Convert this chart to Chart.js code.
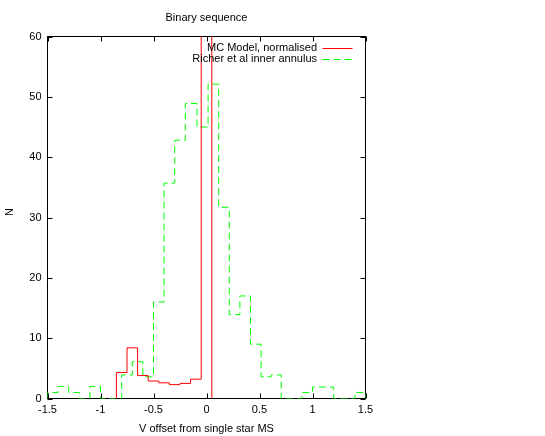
<!DOCTYPE html>
<html lang="en">
<head>
<meta charset="UTF-8">
<title>Binary sequence</title>
<script src="https://cdn.jsdelivr.net/npm/chart.js"></script>
<style>
  body { margin: 0; background: #fff; }
  canvas { display: block; }
</style>
</head>
<body>
<canvas id="histChart" width="545" height="436"></canvas>
<script>
// bin edges and counts
const modelEdges = [-0.85, -0.75, -0.65, -0.55, -0.45, -0.35, -0.25, -0.15, -0.05, 0.05];
const modelCounts = [4.3, 8.4, 3.8, 2.9, 2.6, 2.3, 2.5, 3.2, 200];

const richerEdges = [-1.5, -1.4, -1.3, -1.2, -1.1, -1.0, -0.8, -0.7, -0.6, -0.5, -0.4, -0.3, -0.2, -0.09,
  0.015, 0.115, 0.215, 0.315, 0.415, 0.515, 0.61, 0.705, 0.9, 1.0, 1.2, 1.4, 1.5];
const richerCounts = [1, 2, 1, 0, 2, 0, 3.9, 6.1, 3.6, 16, 35.7, 42.8, 48.9, 45,
  52.1, 31.7, 13.9, 17, 9, 3.6, 3.9, 0, 1, 1.9, 0, 1];

const seriesNames = ["MC Model, normalised", "Richer et al inner annulus"];
const xTicks = [-1.5, -1, -0.5, 0, 0.5, 1, 1.5];
const yTicks = [0, 10, 20, 30, 40, 50, 60];

const FONT = "11px 'Liberation Sans', Arial, sans-serif";

// turn edges + counts into points for a stepped line
function steps(edges, counts) {
  const pts = [{x: edges[0], y: 0}];
  counts.forEach((c, i) => pts.push({x: edges[i], y: c}));
  const last = edges[edges.length - 1];
  pts.push({x: last, y: counts[counts.length - 1]});
  pts.push({x: last, y: 0});
  return pts;
}

const framePlugin = {
  id: 'frame',
  beforeDatasetsDraw(chart) {
    const {ctx, chartArea: a, scales} = chart;
    ctx.save();
    ctx.strokeStyle = '#000';
    ctx.lineWidth = 1;
    ctx.strokeRect(a.left, a.top, a.right - a.left, a.bottom - a.top);
    ctx.beginPath();
    xTicks.forEach(v => {
      const px = Math.round(scales.x.getPixelForValue(v)) + 0.5;
      ctx.moveTo(px, a.bottom); ctx.lineTo(px, a.bottom - 5);
      ctx.moveTo(px, a.top); ctx.lineTo(px, a.top + 5);
    });
    yTicks.forEach(v => {
      const py = Math.round(scales.y.getPixelForValue(v)) + 0.5;
      ctx.moveTo(a.left, py); ctx.lineTo(a.left + 5, py);
      ctx.moveTo(a.right, py); ctx.lineTo(a.right - 5, py);
    });
    ctx.stroke();
    ctx.restore();
  },
  afterDraw(chart) {
    const {ctx, chartArea: a} = chart;
    ctx.save();
    ctx.font = FONT;
    ctx.fillStyle = '#000';
    ctx.textBaseline = 'middle';
    ctx.textAlign = 'center';
    const cx = (a.left + a.right) / 2;
    ctx.fillText('Binary sequence', cx, 18);
    ctx.fillText('V offset from single star MS', cx, 429);
    ctx.save();
    ctx.translate(10, 212);
    ctx.rotate(-Math.PI / 2);
    ctx.fillText('N', 0, 0);
    ctx.restore();

    // key, top right inside the plot
    const rows = [47.5, 58.5];
    chart.data.datasets.forEach((ds, i) => {
      const y = rows[i];
      ctx.textAlign = 'right';
      ctx.fillStyle = '#000';
      ctx.fillText(seriesNames[i], 317, y);
      ctx.beginPath();
      ctx.strokeStyle = ds.borderColor;
      ctx.lineWidth = 1;
      ctx.setLineDash(ds.borderDash || []);
      ctx.moveTo(322.5, Math.round(y) + 0.5);
      ctx.lineTo(352.5, Math.round(y) + 0.5);
      ctx.stroke();
    });
    ctx.restore();
  }
};

const tickFont = {family: "'Liberation Sans', Arial, sans-serif", size: 11};

new Chart(document.getElementById('histChart'), {
  type: 'line',
  data: {
    datasets: [
      {
        label: seriesNames[0],
        data: steps(modelEdges, modelCounts),
        borderColor: '#ff0000',
        borderWidth: 1,
        pointRadius: 0,
        stepped: 'before',
        fill: false
      },
      {
        label: seriesNames[1],
        data: steps(richerEdges, richerCounts),
        borderColor: '#00ff00',
        borderWidth: 1,
        borderDash: [7, 4],
        pointRadius: 0,
        stepped: 'before',
        fill: false
      }
    ]
  },
  options: {
    responsive: false,
    animation: false,
    layout: {padding: {left: 0, right: 179.5, top: 36.5, bottom: 0}},
    plugins: {
      legend: {display: false},
      title: {display: false},
      tooltip: {enabled: false}
    },
    scales: {
      x: {
        type: 'linear',
        min: -1.5,
        max: 1.5,
        grid: {display: false, drawTicks: false},
        border: {display: false},
        ticks: {color: '#000', font: tickFont, padding: 5, maxRotation: 0, autoSkip: false,
                callback: v => String(v)},
        afterBuildTicks: s => { s.ticks = xTicks.map(v => ({value: v})); },
        afterFit: s => { s.height = 37.5; }
      },
      y: {
        type: 'linear',
        min: 0,
        max: 60,
        grid: {display: false, drawTicks: false},
        border: {display: false},
        ticks: {color: '#000', font: tickFont, padding: 6, callback: v => String(v)},
        afterBuildTicks: s => { s.ticks = yTicks.map(v => ({value: v})); },
        afterFit: s => { s.width = 47.5; }
      }
    }
  },
  plugins: [framePlugin]
});
</script>
</body>
</html>
